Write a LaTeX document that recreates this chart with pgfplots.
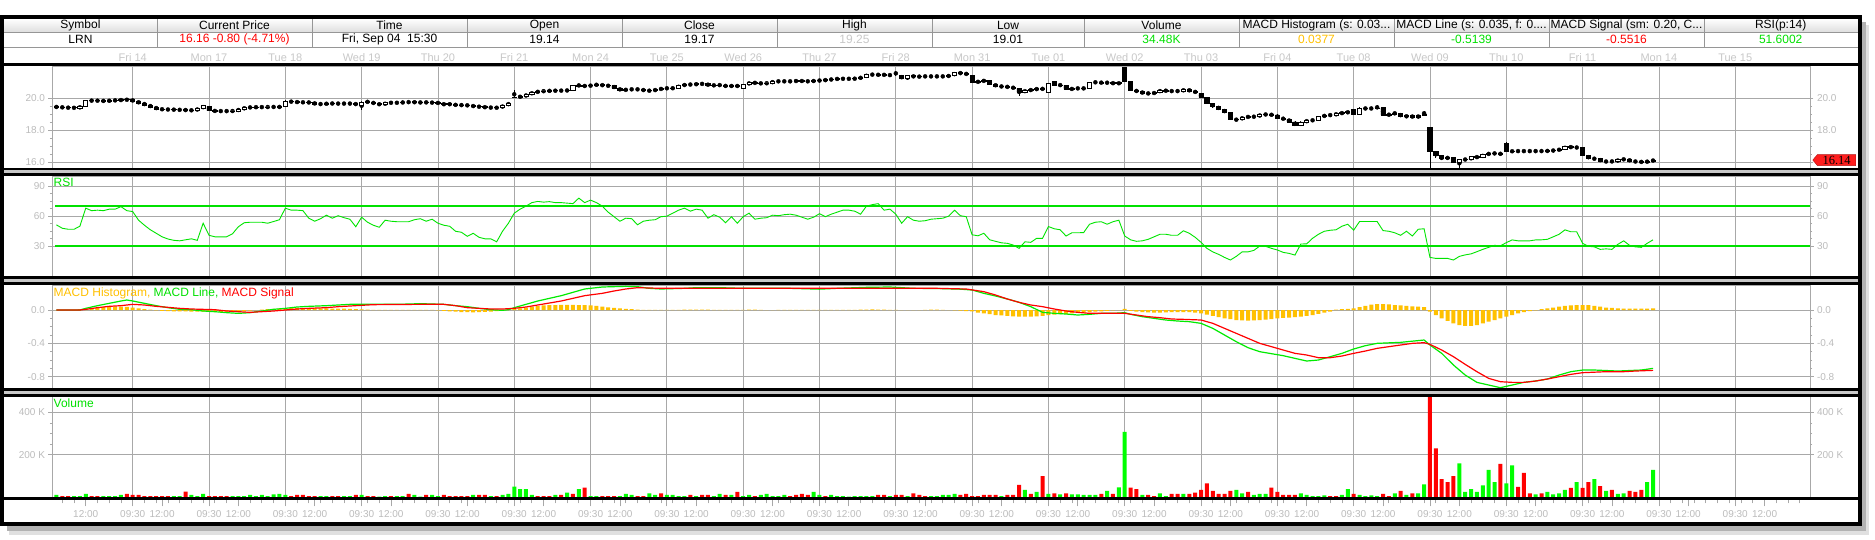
\documentclass[border=0pt]{standalone}
\usepackage{fontspec}
\setmainfont{Liberation Sans}
\newfontfamily\tagfont{Liberation Serif}
\usepackage{pgfplots}
\pgfplotsset{compat=1.18}
\usepackage{pgfplotstable}
\usetikzlibrary{shapes.symbols}

\definecolor{gridc}{RGB}{168,168,168}
\definecolor{lblc}{RGB}{188,188,188}
\definecolor{datec}{RGB}{200,200,200}
\definecolor{bandc}{RGB}{200,200,200}
\definecolor{hdrc}{RGB}{150,150,150}
\definecolor{upg}{RGB}{0,255,0}
\definecolor{txtg}{RGB}{0,225,0}
\definecolor{dnr}{RGB}{255,0,0}
\definecolor{amber}{RGB}{255,192,0}
\definecolor{tagred}{RGB}{255,30,30}

% 30 minute bars, 13 per day, bar 0 = Thu 13 09:30
\pgfplotstableread{
x o h l c vg vr rsi hist
0 19.47 19.50 19.42 19.45 11 0 51.4 0
1 19.45 19.48 19.39 19.42 0 6 48 0
2 19.42 19.45 19.38 19.41 0 6 47 0
3 19.41 19.44 19.37 19.40 6 0 47 0
4 19.37 19.53 19.34 19.50 6 0 50 0.008
5 19.50 19.88 19.47 19.85 16 0 68 0.015
6 19.85 19.89 19.82 19.86 0 6 65.5 0.022
7 19.86 19.89 19.81 19.84 0 6 66 0.03
8 19.84 19.87 19.80 19.83 6 0 65.5 0.036
9 19.83 19.89 19.80 19.86 6 0 67 0.04
10 19.86 19.91 19.83 19.88 6 0 67 0.04
11 19.88 19.93 19.85 19.90 11 0 69.5 0.04
12 19.90 19.95 19.87 19.92 0 16 65.5 0.038
13 19.93 19.96 19.77 19.80 0 11 64.6 0.03
14 19.80 19.83 19.67 19.70 0 11 56 0.02
15 19.70 19.73 19.55 19.58 0 6 51 0.01
16 19.58 19.61 19.42 19.45 0 6 46.5 0.005
17 19.45 19.48 19.30 19.33 0 6 43 -0.005
18 19.33 19.36 19.27 19.30 0 6 39.5 -0.01
19 19.30 19.33 19.27 19.30 0 6 37.3 -0.012
20 19.30 19.33 19.25 19.28 6 0 36 -0.015
21 19.28 19.31 19.25 19.28 6 0 35.5 -0.015
22 19.28 19.31 19.22 19.26 0 27 36.5 -0.016
23 19.26 19.29 19.21 19.25 11 0 37.5 -0.018
24 19.25 19.38 19.22 19.35 6 0 36 -0.02
25 19.35 19.58 19.32 19.55 16 0 53 -0.02
26 19.50 19.53 19.19 19.22 0 6 41 -0.022
27 19.22 19.25 19.17 19.20 0 6 39.5 -0.024
28 19.20 19.23 19.17 19.20 0 6 39.5 -0.022
29 19.20 19.23 19.17 19.20 0 6 39.5 -0.02
30 19.20 19.24 19.17 19.21 6 0 42.5 -0.018
31 19.21 19.36 19.18 19.33 6 0 49.5 -0.015
32 19.33 19.45 19.30 19.42 6 0 53.5 -0.01
33 19.42 19.47 19.39 19.44 11 0 54 -0.006
34 19.44 19.48 19.41 19.45 6 0 54 0
35 19.45 19.48 19.42 19.45 11 0 54 0.005
36 19.45 19.49 19.42 19.46 6 0 53 0.01
37 19.46 19.49 19.43 19.46 14 0 54.7 0.015
38 19.48 19.51 19.41 19.44 16 0 56.5 0.018
39 19.48 19.88 19.45 19.80 11 0 68 0.02
40 19.80 19.83 19.75 19.78 0 6 66 0.022
41 19.78 19.81 19.72 19.75 0 11 66 0.024
42 19.75 19.78 19.72 19.75 0 11 65.5 0.024
43 19.76 19.79 19.69 19.72 0 6 58 0.024
44 19.72 19.75 19.61 19.64 0 6 55 0.022
45 19.64 19.67 19.61 19.64 6 0 57.5 0.02
46 19.64 19.71 19.61 19.68 6 0 61 0.02
47 19.68 19.71 19.64 19.67 0 6 58 0.018
48 19.67 19.70 19.64 19.67 0 6 60.5 0.018
49 19.67 19.70 19.64 19.67 6 0 58.5 0.018
50 19.67 19.71 19.63 19.67 6 0 57 0.015
51 19.68 19.71 19.57 19.60 0 11 49.5 0.012
52 19.58 19.80 19.27 19.77 11 0 59 0.008
53 19.78 19.83 19.73 19.76 0 6 54 0.005
54 19.76 19.79 19.63 19.66 0 6 51 0.003
55 19.66 19.69 19.57 19.60 3 0 49 0.002
56 19.60 19.75 19.57 19.72 6 0 56 0.002
57 19.72 19.75 19.69 19.72 0 6 55 0.002
58 19.72 19.75 19.69 19.72 6 0 54.5 0.002
59 19.72 19.79 19.69 19.76 6 0 54.5 0.002
60 19.76 19.79 19.73 19.76 0 16 54.5 0.003
61 19.78 19.81 19.70 19.73 11 0 56.5 0.003
62 19.73 19.78 19.70 19.75 3 0 57.5 0.003
63 19.77 19.80 19.69 19.72 0 11 55 0.002
64 19.72 19.77 19.69 19.74 11 0 57 0.001
65 19.74 19.77 19.65 19.68 6 0 53 -0.005
66 19.68 19.71 19.55 19.64 0 11 51 -0.01
67 19.66 19.69 19.57 19.60 0 6 50 -0.015
68 19.60 19.63 19.55 19.58 0 6 45 -0.02
69 19.58 19.61 19.54 19.57 0 6 44 -0.024
70 19.57 19.60 19.52 19.55 0 6 40 -0.026
71 19.55 19.58 19.45 19.48 11 0 43 -0.028
72 19.48 19.51 19.44 19.47 0 11 39 -0.026
73 19.47 19.50 19.39 19.42 0 11 37.5 -0.022
74 19.42 19.45 19.39 19.42 6 0 37.5 -0.018
75 19.42 19.45 19.37 19.40 0 6 34.5 -0.012
76 19.40 19.60 19.37 19.57 11 0 45 -0.006
77 19.57 19.73 19.54 19.70 16 0 53 0.005
78 20.05 20.50 20.00 20.08 50 0 63 0.01
79 20.08 20.14 20.05 20.10 39 0 67 0.02
80 20.10 20.28 20.07 20.25 39 0 70 0.03
81 20.25 20.41 20.22 20.38 11 0 73.5 0.04
82 20.38 20.46 20.35 20.43 0 6 74.7 0.048
83 20.43 20.49 20.40 20.46 0 6 74 0.055
84 20.46 20.50 20.43 20.47 0 6 74.5 0.058
85 20.47 20.51 20.44 20.48 11 0 73.5 0.06
86 20.48 20.51 20.45 20.48 0 11 73.5 0.062
87 20.48 20.53 20.45 20.50 22 0 73 0.062
88 20.50 20.85 20.47 20.82 0 16 72.5 0.062
89 20.82 20.88 20.73 20.76 39 0 78 0.06
90 20.76 20.81 20.73 20.78 0 45 73.5 0.058
91 20.78 20.83 20.75 20.80 6 0 76 0.055
92 20.80 20.92 20.77 20.86 6 0 73.5 0.05
93 20.86 20.89 20.75 20.78 0 6 70 0.04
94 20.78 20.82 20.75 20.79 0 6 64 0.032
95 20.79 20.82 20.59 20.62 0 6 59.5 0.025
96 20.62 20.65 20.47 20.50 6 0 55 0.02
97 20.50 20.59 20.47 20.56 16 0 58 0.015
98 20.56 20.59 20.53 20.56 11 0 57.5 0.01
99 20.56 20.59 20.53 20.56 0 6 51.5 0.006
100 20.56 20.59 20.44 20.47 0 6 55 0.003
101 20.47 20.51 20.44 20.48 19 0 56 0.002
102 20.48 20.58 20.45 20.55 11 0 56.5 0.001
103 20.55 20.65 20.52 20.62 0 19 59.5 0.001
104 20.62 20.66 20.59 20.62 11 0 60 0.002
105 20.62 20.67 20.59 20.64 11 0 63 0.002
106 20.64 20.83 20.61 20.80 6 0 66 0.003
107 20.80 20.89 20.77 20.86 6 0 68 0.004
108 20.86 20.89 20.83 20.86 0 11 65 0.005
109 20.86 20.93 20.83 20.90 6 0 67 0.006
110 20.90 20.94 20.86 20.90 0 11 66 0.006
111 20.90 20.93 20.77 20.80 0 11 58 0.004
112 20.80 20.85 20.77 20.82 6 0 61.5 0.002
113 20.82 20.86 20.79 20.83 16 0 59 0.002
114 20.83 20.86 20.69 20.72 0 11 53.5 0.001
115 20.72 20.85 20.69 20.82 11 0 59.5 0.001
116 20.82 20.85 20.69 20.72 0 25 53 0.001
117 20.62 20.91 20.59 20.88 6 0 59.5 0.002
118 20.88 21.01 20.85 20.98 11 0 63 0.004
119 20.98 21.01 20.92 20.95 0 6 57 0.004
120 20.95 20.98 20.89 20.92 11 0 58 0.002
121 20.92 20.99 20.89 20.96 16 0 58.5 0
122 20.96 21.09 20.93 21.06 6 0 61 0
123 21.06 21.09 21.03 21.06 6 0 60.5 0.001
124 21.06 21.09 21.03 21.06 11 0 61.5 0.001
125 21.06 21.09 21.03 21.06 0 6 62 0.001
126 21.06 21.13 21.03 21.10 0 11 61 0.001
127 21.10 21.13 21.03 21.06 0 16 59 0.001
128 21.06 21.09 21.03 21.06 0 11 57 0.001
129 21.06 21.13 21.03 21.10 25 0 59 0.001
130 21.10 21.15 21.07 21.12 11 0 62.5 0.001
131 21.12 21.18 21.09 21.15 0 6 59.5 0.002
132 21.15 21.23 21.12 21.20 11 0 62 0.002
133 21.20 21.25 21.17 21.22 6 0 64 0.002
134 21.22 21.25 21.19 21.22 6 0 66 0.002
135 21.22 21.25 21.19 21.22 3 0 66 0.002
136 21.22 21.26 21.19 21.23 6 0 65 0.003
137 21.23 21.36 21.20 21.33 6 0 62 0.004
138 21.33 21.51 21.30 21.48 6 0 70 0.006
139 21.48 21.51 21.45 21.48 6 0 71.5 0.007
140 21.46 21.51 21.43 21.48 0 11 72.5 0.006
141 21.48 21.51 21.42 21.45 0 11 66 0.004
142 21.45 21.48 21.42 21.45 6 0 67 0.002
143 21.45 21.70 21.42 21.45 0 11 62 0.001
144 21.42 21.45 21.19 21.22 0 11 53 0
145 21.22 21.43 21.15 21.40 6 0 59.5 -0.002
146 21.40 21.43 21.31 21.34 0 19 56 -0.002
147 21.34 21.40 21.31 21.37 0 11 55 0
148 21.37 21.40 21.34 21.37 0 6 55.5 0.002
149 21.37 21.40 21.34 21.37 6 0 57 0.004
150 21.37 21.40 21.34 21.37 6 0 57.5 0.004
151 21.37 21.40 21.34 21.37 11 0 58 0.002
152 21.37 21.45 21.34 21.42 11 0 60 0
153 21.42 21.63 21.39 21.60 16 0 66 -0.004
154 21.60 21.63 21.52 21.55 0 11 60.5 -0.008
155 21.55 21.58 21.47 21.50 0 16 59.5 -0.012
156 21.42 21.45 20.97 21.00 0 6 41.5 -0.015
157 21.00 21.09 20.97 21.06 0 6 40.5 -0.03
158 21.06 21.15 21.03 21.12 0 11 43 -0.04
159 21.10 21.13 20.85 20.88 0 11 36.5 -0.05
160 20.88 20.91 20.72 20.75 0 11 35 -0.06
161 20.75 20.78 20.70 20.73 6 0 33.5 -0.065
162 20.73 20.76 20.67 20.70 0 11 33 -0.07
163 20.70 20.73 20.59 20.62 0 11 31.3 -0.075
164 20.62 20.65 20.15 20.38 0 58 28 -0.078
165 20.38 20.55 20.35 20.52 35 0 34.5 -0.08
166 20.52 20.58 20.45 20.55 0 16 34 -0.078
167 20.55 20.63 20.52 20.60 25 0 38 -0.075
168 20.60 20.63 20.55 20.58 0 100 38 -0.07
169 20.35 20.98 20.30 20.95 16 0 49.7 -0.06
170 21.04 21.07 20.79 20.82 0 19 47.5 -0.055
171 20.82 20.86 20.79 20.83 14 0 46.5 -0.05
172 20.83 20.86 20.52 20.55 0 19 40.3 -0.045
173 20.55 20.65 20.52 20.62 14 0 43.5 -0.04
174 20.62 20.65 20.59 20.62 14 0 43.5 -0.035
175 20.64 20.67 20.57 20.60 11 0 43.7 -0.03
176 20.60 21.03 20.57 21.00 11 0 52 -0.025
177 21.00 21.03 20.97 21.00 11 0 54 -0.02
178 21.00 21.03 20.93 20.96 0 16 54.5 -0.015
179 20.96 21.02 20.93 20.96 30 0 52 -0.01
180 20.99 21.02 20.87 20.90 0 16 54.5 -0.005
181 20.90 21.01 20.87 20.98 47 0 56 0
182 22.02 22.10 21.01 21.04 308 0 40.3 0.015
183 21.06 21.09 20.47 20.50 0 45 36.5 -0.01
184 20.50 20.53 20.39 20.42 0 39 35 -0.02
185 20.42 20.45 20.27 20.30 11 0 35.5 -0.025
186 20.30 20.34 20.27 20.31 0 11 37 -0.028
187 20.31 20.38 20.28 20.35 0 6 39.5 -0.03
188 20.35 20.58 20.32 20.50 19 0 42 -0.03
189 20.50 20.53 20.42 20.45 6 0 42 -0.028
190 20.45 20.48 20.42 20.45 0 16 41 -0.026
191 20.45 20.48 20.42 20.45 0 16 41 -0.024
192 20.45 20.58 20.42 20.55 16 0 45.5 -0.024
193 20.55 20.58 20.42 20.45 0 16 43 -0.026
194 20.45 20.48 20.32 20.35 0 22 39 -0.03
195 20.30 20.33 20.02 20.05 0 35 34 -0.04
196 20.05 20.08 19.67 19.70 0 66 28 -0.055
197 19.70 19.73 19.40 19.50 0 30 24.5 -0.07
198 19.50 19.53 19.27 19.30 0 16 22 -0.085
199 19.30 19.33 19.07 19.10 0 16 19 -0.1
200 19.10 19.13 18.62 18.65 0 30 16.4 -0.11
201 18.65 18.71 18.62 18.68 35 0 20 -0.12
202 18.68 18.85 18.65 18.82 19 0 24.5 -0.125
203 18.82 18.88 18.79 18.85 0 25 24.5 -0.128
204 18.85 18.88 18.82 18.85 11 0 26 -0.125
205 18.85 19.03 18.82 19.00 16 0 30.3 -0.12
206 19.00 19.03 18.95 18.98 16 0 30 -0.115
207 18.98 19.01 18.93 18.96 0 45 28 -0.11
208 18.96 18.99 18.72 18.75 0 25 26.4 -0.1
209 18.75 18.78 18.67 18.70 0 11 24 -0.095
210 18.70 18.73 18.49 18.52 0 11 23 -0.09
211 18.52 18.55 18.25 18.28 0 11 21.3 -0.085
212 18.28 18.55 18.25 18.52 19 0 32.3 -0.08
213 18.52 18.65 18.49 18.62 11 0 32.5 -0.07
214 18.62 18.66 18.59 18.62 6 0 38 -0.06
215 18.62 18.88 18.59 18.85 6 0 42 -0.045
216 18.85 18.98 18.82 18.95 9 0 45 -0.03
217 18.95 18.98 18.92 18.95 0 6 46 -0.02
218 18.95 19.08 18.92 19.05 0 6 46.5 0.005
219 19.05 19.13 19.02 19.10 11 0 50 0.01
220 19.10 19.18 19.07 19.15 39 0 52 0.015
221 19.28 19.31 18.95 18.98 0 16 46 0.02
222 18.98 19.45 18.95 19.38 11 0 54.7 0.035
223 19.38 19.41 19.32 19.35 6 0 54.7 0.05
224 19.35 19.41 19.32 19.35 9 0 54.7 0.065
225 19.35 19.55 19.32 19.38 6 0 54.7 0.07
226 19.40 19.43 18.92 18.95 0 16 45.7 0.072
227 18.95 19.03 18.92 19.00 0 6 45 0.068
228 19.00 19.15 18.97 19.05 19 0 43.5 0.06
229 19.05 19.08 18.82 18.85 0 30 41 0.055
230 18.85 18.93 18.82 18.90 11 0 45 0.05
231 18.90 18.93 18.79 18.82 0 19 40.3 0.045
232 18.90 18.93 18.79 18.82 19 0 47 0.04
233 18.96 19.20 18.93 19.00 61 0 47.5 0.035
234 18.17 18.20 15.60 16.67 0 520 19 -0.02
235 16.67 16.70 16.30 16.40 0 230 18 -0.06
236 16.40 16.43 16.12 16.25 0 85 18 -0.1
237 16.25 16.33 16.22 16.30 0 72 18 -0.13
238 16.30 16.33 15.97 16.00 0 100 16.4 -0.16
239 16.00 16.23 15.65 16.20 160 0 20 -0.18
240 16.20 16.23 16.12 16.15 25 0 21.5 -0.19
241 16.15 16.38 16.12 16.35 39 0 22.5 -0.19
242 16.35 16.38 16.27 16.30 25 0 24.7 -0.18
243 16.30 16.53 16.27 16.50 56 0 27 -0.16
244 16.50 16.58 16.47 16.55 129 0 29 -0.14
245 16.55 16.59 16.52 16.56 72 0 31 -0.12
246 16.56 16.59 16.47 16.50 0 157 30.5 -0.1
247 17.20 17.28 16.65 16.68 66 0 33.7 -0.08
248 16.68 16.73 16.65 16.70 150 0 36.4 -0.06
249 16.70 16.73 16.67 16.70 0 49 35.5 -0.04
250 16.70 16.74 16.66 16.70 0 115 35.5 -0.025
251 16.70 16.73 16.67 16.70 0 19 35.5 -0.012
252 16.70 16.73 16.67 16.70 14 0 36.4 -0.005
253 16.70 16.73 16.67 16.70 0 19 36.5 0.01
254 16.70 16.75 16.67 16.72 25 0 37 0.02
255 16.72 16.78 16.69 16.74 14 0 39.5 0.03
256 16.74 16.86 16.71 16.83 19 0 42 0.04
257 16.83 17.01 16.80 16.98 35 0 46.4 0.05
258 16.98 17.01 16.89 16.92 0 44 44.5 0.055
259 16.92 16.96 16.89 16.92 72 0 44.5 0.06
260 16.95 16.98 16.39 16.42 0 44 33 0.06
261 16.42 16.45 16.19 16.22 0 72 30 0.058
262 16.22 16.26 16.19 16.22 85 0 29.5 0.05
263 16.22 16.25 16.02 16.05 0 53 27 0.04
264 16.05 16.08 16.02 16.05 30 0 27.5 0.03
265 16.05 16.09 16.02 16.05 0 35 27 0.025
266 16.05 16.20 16.02 16.17 16 0 32 0.02
267 16.17 16.23 16.14 16.20 19 0 35.5 0.018
268 16.20 16.23 16.02 16.05 0 30 31 0.018
269 16.05 16.08 16.02 16.05 0 25 29.5 0.018
270 16.05 16.08 15.97 16.00 0 35 29 0.018
271 16.00 16.11 15.97 16.08 72 0 33 0.018
272 16.08 16.17 16.05 16.14 129 0 36.5 0.02
}\data

\pgfplotsset{
  base/.style={scale only axis, width=1758pt, xmin=-0.75, xmax=298.74, anchor=north west,
    axis line style={draw=gridc, line width=0.8pt},
    tick style={draw=gridc, line width=0.8pt},
    major tick length=3.5pt, minor tick length=2pt, tick align=outside,
    ticklabel style={font=\fontsize{10}{12}\selectfont, text=lblc},
    /pgf/number format/assume math mode=true},
  panel/.style={base, xtick={13,26,...,286}, xticklabels={}, xmajorticks=false,
    grid=major, major grid style={draw=gridc, line width=0.8pt}, ytick pos=left},
  rlab/.style={base, axis x line=none, axis y line*=right},
  pricey/.style={height=101.5pt, ymin=15.644, ymax=21.9875, ytick={16,18,20}, minor y tick num=3,
    yticklabel style={/pgf/number format/.cd, fixed, fixed zerofill, precision=1}},
  rsiy/.style={height=100.5pt, ymin=0, ymax=100, ytick={30,60,90}, minor y tick num=3},
  macdy/.style={height=102.5pt, ymin=-0.9355, ymax=0.294, ytick={-0.8,-0.4,0}, minor y tick num=3,
    yticklabel style={/pgf/number format/.cd, fixed, fixed zerofill, precision=1}},
  voly/.style={height=100.8pt, ymin=0, ymax=474.4, ytick={200,400}, minor y tick num=3,
    yticklabel={\pgfmathprintnumber{\tick} K}},
}
\newcommand\hdr{\fontsize{12}{14}\selectfont}

\begin{document}
\begin{tikzpicture}
\path[use as bounding box] (0pt,0pt) rectangle (1875pt,-540pt);
\begin{scope}[x=1pt,y=-1pt]
  \fill[white] (0,0) rectangle (1875,540);
  \fill[black!12] (9,25) rectangle (1869,535);
  \fill[black!30] (7,22) rectangle (1866,531);
  \fill[white] (2,16.7) rectangle (1859.5,524);
  % header table
  \shade[top color=white, bottom color=black!13] (4,18.7) rectangle (1857.5,32.3);
  \draw[hdrc, line width=0.8pt] (4,32.3) -- (1857.5,32.3);
  \draw[hdrc, line width=0.8pt] (4,47.3) -- (1857.5,47.3);
  \foreach \xx in {157,312,467,622,777,932,1084,1239,1394,1549,1704}
    \draw[hdrc, line width=0.8pt] (\xx,18.7) -- (\xx,47.3);
  \node[font=\hdr] at (80.5,25.5) {Symbol};
  \node[font=\hdr] at (234.5,25.5) {Current Price};
  \node[font=\hdr] at (389.5,25.5) {Time};
  \node[font=\hdr] at (544.5,25.5) {Open};
  \node[font=\hdr] at (699.5,25.5) {Close};
  \node[font=\hdr] at (854.5,25.5) {High};
  \node[font=\hdr] at (1008,25.5) {Low};
  \node[font=\hdr] at (1161.5,25.5) {Volume};
  \node[font=\hdr] at (1316.5,25.5) {MACD Histogram (s: 0.03...};
  \node[font=\hdr] at (1471.5,25.5) {MACD Line (s: 0.035, f: 0....};
  \node[font=\hdr] at (1626.5,25.5) {MACD Signal (sm: 0.20, C...};
  \node[font=\hdr] at (1780.7,25.5) {RSI(p:14)};
  \node[font=\hdr] at (80.5,39.5) {LRN};
  \node[font=\hdr, text=dnr] at (234.5,39.5) {16.16 -0.80 (-4.71\%)};
  \node[font=\hdr] at (389.5,39.5) {Fri, Sep 04\ \ 15:30};
  \node[font=\hdr] at (544.5,39.5) {19.14};
  \node[font=\hdr] at (699.5,39.5) {19.17};
  \node[font=\hdr, text=datec] at (854.5,39.5) {19.25};
  \node[font=\hdr] at (1008,39.5) {19.01};
  \node[font=\hdr, text=txtg] at (1161.5,39.5) {34.48K};
  \node[font=\hdr, text=amber] at (1316.5,39.5) {0.0377};
  \node[font=\hdr, text=txtg] at (1471.5,39.5) {-0.5139};
  \node[font=\hdr, text=dnr] at (1626.5,39.5) {-0.5516};
  \node[font=\hdr, text=txtg] at (1780.7,39.5) {51.6002};
\end{scope}

% ---- price panel
\begin{axis}[panel, pricey, at={(52pt,-66.5pt)}]
\addplot[only marks, mark=none, error bars/.cd, y dir=both, y explicit, error mark=none,
  error bar style={draw=black, line width=0.8pt}]
  table[x=x, y expr={(\thisrow{h}+\thisrow{l})/2}, y error expr={(\thisrow{h}-\thisrow{l})/2}] {\data};
\end{axis}
% bodies; the right-hand 16.0 label sits under the last-price tag
\begin{axis}[rlab, pricey, at={(52pt,-66.5pt)}, ybar stacked, bar width=4.2pt,
  yticklabels={,18.0,20.0}]
\addplot[draw=none, fill=none] table[x=x, y expr={min(\thisrow{o},\thisrow{c})}] {\data};
\addplot[fill=white, draw=black, line width=0.8pt] table[x=x, y expr={max(\thisrow{c}-\thisrow{o},0)}] {\data};
\addplot[fill=black, draw=black, line width=0.8pt] table[x=x, y expr={max(\thisrow{o}-\thisrow{c},0)}] {\data};
\end{axis}
% day labels above the price panel
\begin{axis}[base, at={(52pt,-66.5pt)}, height=101.5pt, ymin=0, ymax=1,
  axis y line=none, axis x line*=top, major tick length=0pt,
  xtick={13,26,...,286},
  xticklabels={Fri 14,Mon 17,Tue 18,Wed 19,Thu 20,Fri 21,Mon 24,Tue 25,Wed 26,Thu 27,Fri 28,Mon 31,Tue 01,Wed 02,Thu 03,Fri 04,Tue 08,Wed 09,Thu 10,Fri 11,Mon 14,Tue 15},
  xticklabel style={font=\fontsize{11}{13}\selectfont, text=datec, yshift=1.5pt}]
\end{axis}
% last price tag
\begin{axis}[base, pricey, at={(52pt,-66.5pt)}, hide axis, clip=false]
\node[signal, signal to=west, signal pointer angle=100, fill=tagred, draw=tagred!70!black,
  minimum height=11pt, minimum width=43pt, inner sep=0pt, anchor=west, xshift=2.5pt,
  font=\tagfont\fontsize{12.5}{13}\selectfont] at (axis cs:298.74,16.14) {16.14};
\end{axis}

% ---- RSI panel
\begin{axis}[panel, rsiy, at={(52pt,-176pt)}]
\addplot[txtg, line width=2pt] coordinates {(-0.2,70) (298.74,70)};
\addplot[txtg, line width=2pt] coordinates {(-0.2,30) (298.74,30)};
\addplot[upg!90!black, line width=0.9pt] table[x=x, y=rsi] {\data};
\node[anchor=north west, inner sep=0pt, xshift=1.5pt, yshift=-2pt, text=txtg,
  font=\fontsize{12}{14}\selectfont] at (rel axis cs:0,1) {RSI};
\end{axis}
\begin{axis}[rlab, rsiy, at={(52pt,-176pt)}]
\end{axis}

% ---- MACD panel
\begin{axis}[panel, macdy, at={(52pt,-285.5pt)}]
\addplot[ybar, bar width=4pt, bar shift=0pt, fill=amber, draw=none] table[x=x, y=hist] {\data};
\addplot[upg!92!black, line width=1.2pt] coordinates {
(0,0) (4,0) (5,0.02) (7,0.052) (9,0.08) (11,0.108) (12,0.12) (13,0.108) (15,0.08) (17,0.052)
(19,0.028) (21,0.008) (23,0.004) (25,-0.012) (27,-0.02) (29,-0.032) (31,-0.04) (33,-0.032)
(35,-0.012) (37,0.008) (39,0.02) (41,0.036) (43,0.044) (46,0.052) (48,0.06) (50,0.068)
(54,0.068) (58,0.068) (62,0.076) (66,0.068) (68,0.052) (70,0.04) (72,0.02) (74,0.004)
(76,-0.004) (77,0.004) (78,0.028) (80,0.068) (82,0.108) (84,0.14) (86,0.172) (88,0.212)
(90,0.252) (93,0.276) (97,0.284) (99,0.28) (101,0.26) (103,0.252) (107,0.26) (109,0.268)
(113,0.268) (117,0.26) (121,0.26) (125,0.26) (130,0.25) (133,0.26) (138,0.272) (142,0.276)
(146,0.26) (150,0.258) (154,0.25) (156,0.24) (158,0.2) (160,0.168) (162,0.132) (164,0.092)
(166,0.04) (168,-0.028) (170,-0.04) (172,-0.048) (174,-0.06) (176,-0.052) (178,-0.04)
(180,-0.04) (182,-0.032) (183,-0.052) (185,-0.08) (187,-0.1) (189,-0.12) (191,-0.132)
(193,-0.14) (195,-0.16) (197,-0.22) (199,-0.3) (201,-0.38) (203,-0.452) (205,-0.5)
(207,-0.524) (209,-0.548) (211,-0.58) (213,-0.612) (215,-0.6) (217,-0.56) (219,-0.52)
(221,-0.468) (223,-0.428) (225,-0.4) (229,-0.388) (233,-0.36) (234,-0.42) (236,-0.52)
(238,-0.66) (240,-0.78) (242,-0.868) (244,-0.9) (246,-0.932) (248,-0.9) (250,-0.868)
(252,-0.852) (254,-0.828) (256,-0.78) (258,-0.74) (260,-0.72) (262,-0.72) (266,-0.732)
(270,-0.72) (272,-0.7)};
\addplot[dnr, line width=1.2pt] coordinates {
(0,0) (4,0) (5,0.008) (7,0.028) (9,0.044) (11,0.052) (13,0.068) (15,0.06) (17,0.044)
(19,0.032) (21,0.02) (23,0.012) (25,0.008) (27,0.004) (29,-0.012) (31,-0.02) (33,-0.028)
(35,-0.02) (37,-0.012) (39,0) (41,0.012) (43,0.02) (46,0.028) (48,0.04) (50,0.048)
(52,0.056) (54,0.064) (62,0.068) (66,0.068) (68,0.052) (70,0.028) (72,0.02) (74,0.012)
(76,0.012) (78,0.02) (80,0.036) (82,0.06) (84,0.084) (86,0.108) (88,0.14) (90,0.172)
(93,0.2) (95,0.228) (97,0.252) (99,0.268) (103,0.26) (113,0.26) (150,0.26) (155,0.252)
(158,0.22) (160,0.18) (162,0.132) (164,0.092) (166,0.06) (168,0.04) (170,0.012)
(172,-0.012) (174,-0.028) (176,-0.04) (182,-0.04) (184,-0.06) (186,-0.08) (188,-0.092)
(190,-0.108) (192,-0.112) (195,-0.12) (197,-0.16) (199,-0.22) (201,-0.28) (203,-0.34)
(205,-0.4) (207,-0.44) (209,-0.48) (211,-0.52) (213,-0.54) (215,-0.572) (217,-0.572)
(219,-0.552) (221,-0.52) (223,-0.492) (225,-0.46) (227,-0.44) (229,-0.42) (231,-0.4)
(233,-0.392) (234,-0.412) (236,-0.48) (238,-0.56) (240,-0.652) (242,-0.74) (244,-0.82)
(246,-0.86) (248,-0.868) (250,-0.868) (252,-0.852) (254,-0.828) (256,-0.8) (258,-0.772)
(260,-0.752) (264,-0.74) (267,-0.74) (269,-0.732) (272,-0.724)};
\node[anchor=north west, inner sep=0pt, xshift=1.5pt, yshift=-2.5pt,
  font=\fontsize{12}{14}\selectfont] at (rel axis cs:0,1)
  {\textcolor{amber}{MACD Histogram,} \textcolor{txtg}{MACD Line,} \textcolor{dnr}{MACD Signal}};
\end{axis}
\begin{axis}[rlab, macdy, at={(52pt,-285.5pt)}]
\end{axis}

% ---- volume panel
\begin{axis}[panel, voly, at={(52pt,-396.5pt)}]
\addplot[ybar, bar width=4pt, bar shift=0pt, fill=upg, draw=none] table[x=x, y=vg] {\data};
\addplot[ybar, bar width=4pt, bar shift=0pt, fill=dnr, draw=none] table[x=x, y=vr] {\data};
\node[anchor=north west, inner sep=0pt, xshift=1.5pt, yshift=-2pt, text=txtg,
  font=\fontsize{12}{14}\selectfont] at (rel axis cs:0,1) {Volume};
\end{axis}
\begin{axis}[rlab, voly, at={(52pt,-396.5pt)}]
\end{axis}
\begin{axis}[base, at={(52pt,-396.5pt)}, height=100.8pt, ymin=0, ymax=1,
  axis y line=none, axis x line*=bottom,
  major tick length=9pt, minor tick length=6pt,
  xtick={5,13,18,26,31,39,44,52,57,65,70,78,83,91,96,104,109,117,122,130,135,143,148,156,161,169,174,182,187,195,200,208,213,221,226,234,239,247,252,260,265,273,278,286,291},
  xticklabels={12:00,09:30,12:00,09:30,12:00,09:30,12:00,09:30,12:00,09:30,12:00,09:30,12:00,09:30,12:00,09:30,12:00,09:30,12:00,09:30,12:00,09:30,12:00,09:30,12:00,09:30,12:00,09:30,12:00,09:30,12:00,09:30,12:00,09:30,12:00,09:30,12:00,09:30,12:00,09:30,12:00,09:30,12:00,09:30,12:00},
  minor xtick={1,3,...,297},
  xticklabel style={yshift=-1pt}]
\end{axis}

% panel borders and frame
\begin{scope}[x=1pt,y=-1pt]
  \fill[black] (4,63.5) rectangle (1857.5,66.5);
  \fill[black] (4,168) rectangle (1857.5,170.5);
  \fill[bandc] (4,170.5) rectangle (1857.5,173.5);
  \fill[black] (4,173.5) rectangle (1857.5,176);
  \fill[black] (4,276.5) rectangle (1857.5,279.5);
  \fill[bandc] (4,279.5) rectangle (1857.5,282.5);
  \fill[black] (4,282.5) rectangle (1857.5,285.5);
  \fill[black] (4,388) rectangle (1857.5,390.8);
  \fill[bandc] (4,390.8) rectangle (1857.5,393.5);
  \fill[black] (4,393.5) rectangle (1857.5,396.5);
  \fill[black] (4,497.3) rectangle (1857.5,500.3);
  \draw[black, line width=4pt] (2,16.7) rectangle (1859.5,524);
\end{scope}
\end{tikzpicture}
\end{document}
